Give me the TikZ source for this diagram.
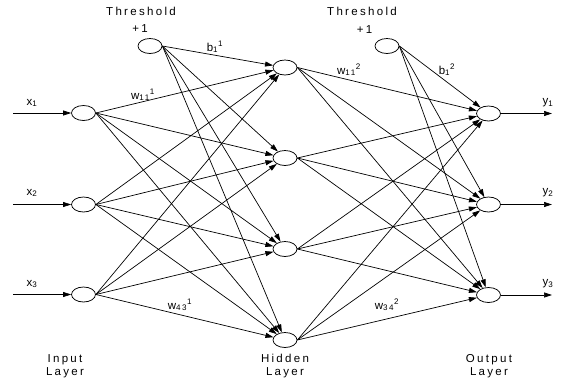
\documentclass[tikz,border=0pt]{standalone}
\usepackage{fontspec}
\setmainfont{Liberation Sans}[LetterSpace=20]
\usetikzlibrary{arrows.meta,shapes.geometric}

\begin{document}
\begin{tikzpicture}[x=1pt,y=-1pt,
  neuron/.style={draw, ellipse, minimum width=24pt, minimum height=15pt, inner sep=0pt, line width=0.75pt},
  link/.style={-{Triangle[length=8pt,width=5pt]}, line width=0.7pt},
  lbl/.style={font=\fontsize{11.5}{13}\selectfont, inner sep=0pt, align=center},
]
\useasboundingbox (0,0) rectangle (566,386);

% neurons
\node[neuron] (i1) at (83.5,113) {};
\node[neuron] (i2) at (83.5,204.5) {};
\node[neuron] (i3) at (83.5,294.5) {};
\node[neuron] (t1) at (150,46) {};
\node[neuron] (h1) at (285,67.5) {};
\node[neuron] (h2) at (285,158) {};
\node[neuron] (h3) at (285,249) {};
\node[neuron] (h4) at (285,340) {};
\node[neuron] (t2) at (387,46) {};
\node[neuron] (o1) at (488.5,113.5) {};
\node[neuron] (o2) at (488.5,204.5) {};
\node[neuron] (o3) at (488.5,295) {};

% free ends of the input and output arrows
\coordinate (s1) at (13,113);
\coordinate (s2) at (13,204.5);
\coordinate (s3) at (13,294.5);
\coordinate (e1) at (552,113.5);
\coordinate (e2) at (552,204.5);
\coordinate (e3) at (552,295);

\foreach \k in {1,2,3} {
  \draw[link] (s\k) -- (i\k);
  \draw[link] (o\k.east) -- (e\k);
}

% input layer and bias to hidden layer
\foreach \j in {1,...,4} {
  \foreach \i in {1,2,3} \draw[link] (i\i.east) -- (h\j);
  \draw[link] (t1.east) -- (h\j);
}

% hidden layer and bias to output layer
\foreach \k in {1,2,3} {
  \foreach \j in {1,...,4} \draw[link] (h\j.east) -- (o\k);
  \draw[link] (t2.east) -- (o\k);
}

% texts
\node[lbl] (th1) at (141,11) {Threshold};
\node[lbl] (th2) at (362,11) {Threshold};
\node[lbl] (p1) at (140,29) {+1};
\node[lbl] (p2) at (364.5,30) {+1};

\node[lbl] (lx1) at (32,103) {x\textsubscript{1}};
\node[lbl] (lx2) at (32,193) {x\textsubscript{2}};
\node[lbl] (lx3) at (32,284) {x\textsubscript{3}};
\node[lbl] (ly1) at (548,103) {y\textsubscript{1}};
\node[lbl] (ly2) at (548,193) {y\textsubscript{2}};
\node[lbl] (ly3) at (548,284) {y\textsubscript{3}};

\node[lbl] (b11) at (215,47) {b\textsubscript{1}\textsuperscript{1}};
\node[lbl] (w111) at (143,95) {w\textsubscript{11}\textsuperscript{1}};
\node[lbl] (w112) at (349,70) {w\textsubscript{11}\textsuperscript{2}};
\node[lbl] (b12) at (447,70) {b\textsubscript{1}\textsuperscript{2}};
\node[lbl] (w431) at (180,305) {w\textsubscript{43}\textsuperscript{1}};
\node[lbl] (w342) at (387,305) {w\textsubscript{34}\textsuperscript{2}};

\node[lbl] (inl) at (65,366.5) {Input\\Layer};
\node[lbl] (hdl) at (285,366.5) {Hidden\\Layer};
\node[lbl] (oul) at (489,366.5) {Output\\Layer};
\end{tikzpicture}
\end{document}
